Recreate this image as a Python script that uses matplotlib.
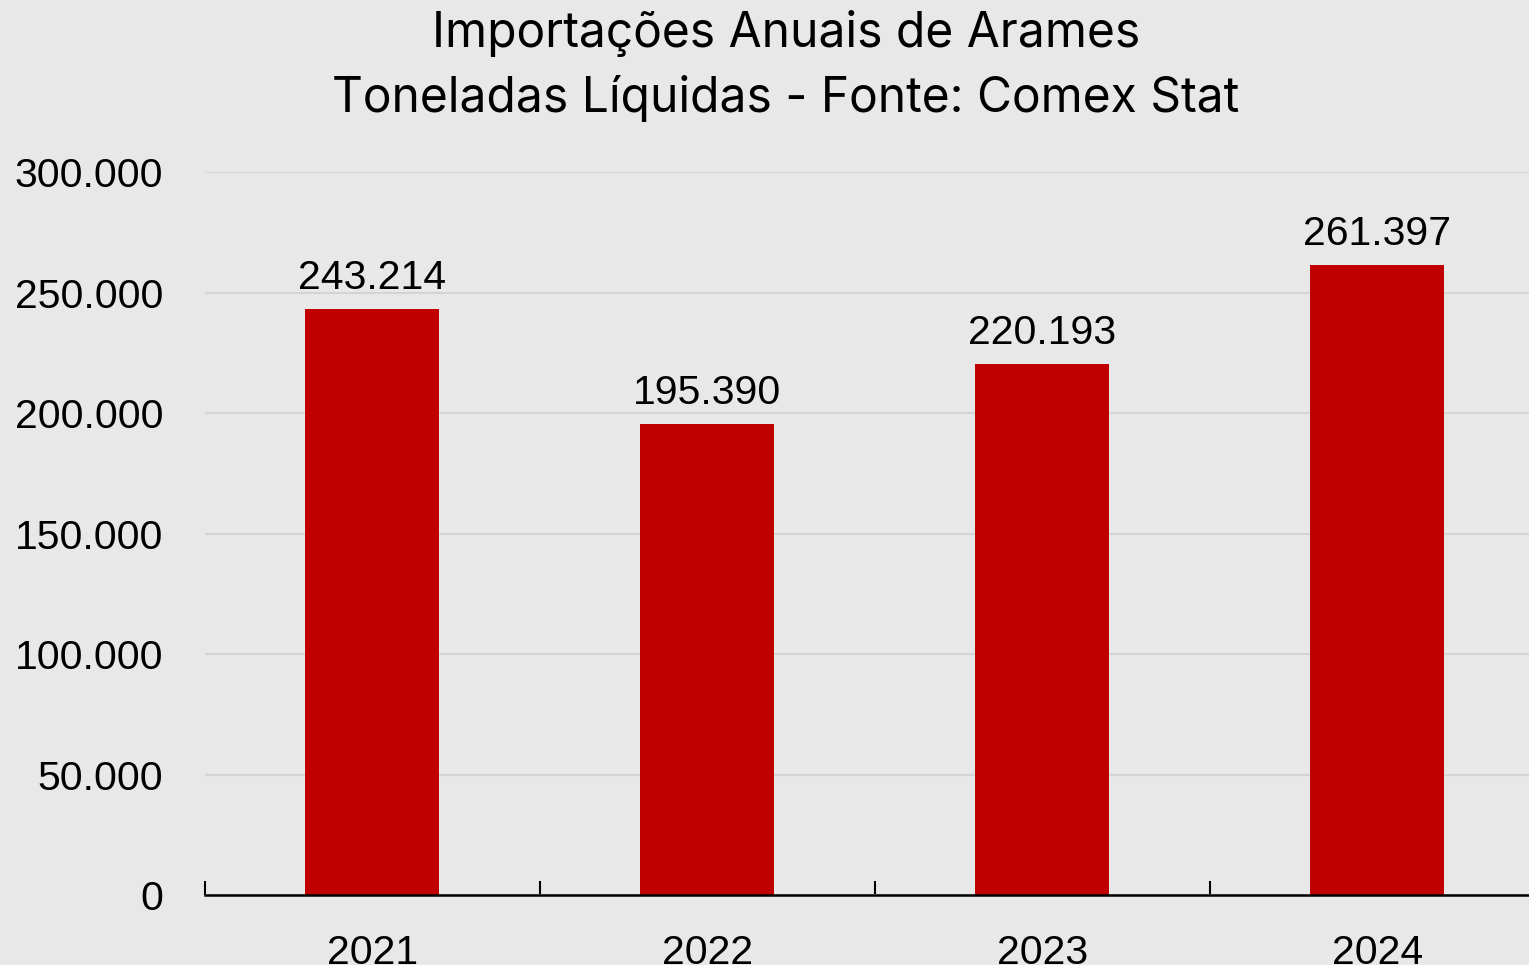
import matplotlib.pyplot as plt
from matplotlib.ticker import FuncFormatter, FixedLocator

years = ["2021", "2022", "2023", "2024"]
tonnes = [243214, 195390, 220193, 261397]
yticks = [0, 50000, 100000, 150000, 200000, 250000, 300000]

BG = "#e8e8e8"
RED = "#c00000"


def fmt(v, pos=None):
    # Brazilian thousands separator
    return f"{int(v):,}".replace(",", ".")


fig = plt.figure(figsize=(15.29, 9.65), dpi=100)
fig.patch.set_facecolor(BG)
ax = fig.add_axes([0.134, 0.0725, 0.8764, 0.7492])
ax.set_facecolor(BG)

x = range(len(years))
ax.bar(x, tonnes, width=0.40, color=RED, zorder=3)

for i, v in enumerate(tonnes):
    ax.text(i, v + 5000, fmt(v), ha="center", va="bottom",
            fontsize=29.5, family="Liberation Sans", color="black")

ax.set_xlim(-0.5, len(years) - 0.5)
ax.set_ylim(0, 300000)
ax.set_yticks(yticks)
ax.yaxis.set_major_formatter(FuncFormatter(fmt))
ax.grid(axis="y", color="#d4d4d4", linewidth=1.5, zorder=0)

ax.set_xticks(list(x))
ax.set_xticklabels(years)
ax.xaxis.set_minor_locator(FixedLocator([i - 0.5 for i in range(len(years) + 1)]))
ax.tick_params(axis="x", which="major", length=0, pad=28)
ax.tick_params(axis="x", which="minor", direction="in", length=10, width=1.5, color="black")
ax.tick_params(axis="y", length=0, pad=30)
for lab in ax.get_xticklabels() + ax.get_yticklabels():
    lab.set_fontsize(29.5)
    lab.set_family("Liberation Sans")

for s in ["top", "right", "left"]:
    ax.spines[s].set_visible(False)
ax.spines["bottom"].set_linewidth(1.8)
ax.spines["bottom"].set_zorder(4)

fig.text(0.514, 0.965, "Importações Anuais de Arames", ha="center", va="center",
         fontsize=34.5, family="Inter")
fig.text(0.514, 0.898, "Toneladas Líquidas - Fonte: Comex Stat", ha="center", va="center",
         fontsize=34.5, family="Inter")

fig.savefig("out.png", dpi=100, facecolor=BG)
